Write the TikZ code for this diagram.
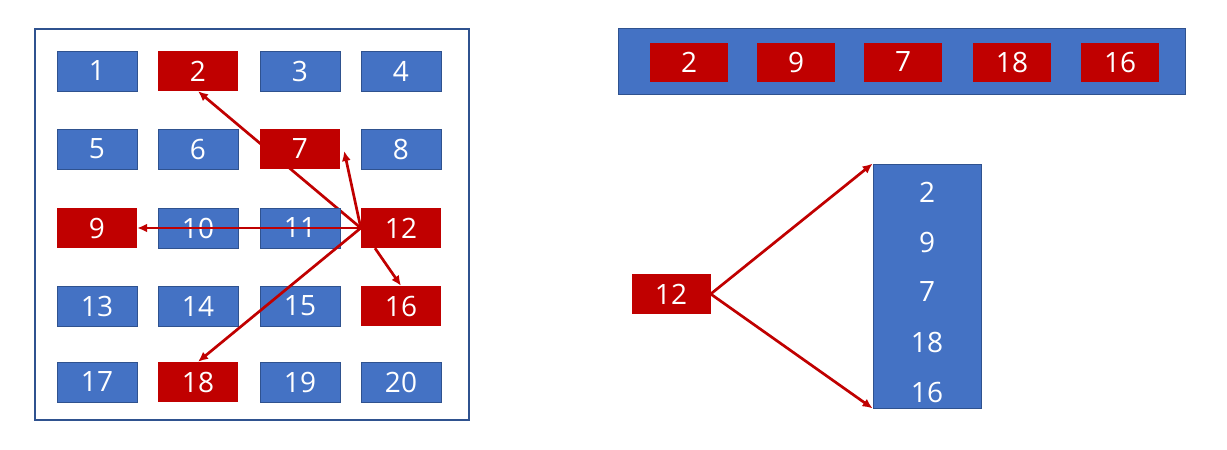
\documentclass[tikz,border=0pt]{standalone}
\usepackage{fontspec}
\setmainfont{Open Sans}
\usetikzlibrary{arrows.meta,backgrounds,calc}
\definecolor{cblue}{HTML}{4472C4}
\definecolor{cblueb}{HTML}{2F528F}
\definecolor{cred}{HTML}{C00000}
\begin{document}
\begin{tikzpicture}[x=1pt,y=-1pt,
  cell/.style={minimum width=80pt,minimum height=40pt,inner sep=0pt,font=\fontsize{28}{28}\selectfont,text=white},
  bcell/.style={cell,fill=cblue,draw=cblueb,line width=0.8pt},
  rcell/.style={cell,fill=cred},
  txt/.style={inner sep=0pt,font=\fontsize{28}{28}\selectfont,text=white},
  arr/.style={draw=cred,line width=2.7pt,-{Latex[length=10pt,width=9pt]}}]
\useasboundingbox (0,0) rectangle (1227,450);
% left frame
\draw[cblueb,line width=1.4pt] (35,29) rectangle (469,420);
% grid
\node[bcell] (n1) at (97,71) {1};
\node[rcell] (n2) at (198,71) {2};
\node[bcell] (n3) at (300,71) {3};
\node[bcell] (n4) at (401,71) {4};
\node[bcell] (n5) at (97,149) {5};
\node[bcell] (n6) at (198,149) {6};
\node[rcell] (n7) at (300,149) {7};
\node[bcell] (n8) at (401,149) {8};
\node[rcell] (n9) at (97,228) {9};
\node[bcell] (n10) at (198,228) {10};
\node[bcell] (n11) at (300,228) {11};
\node[rcell] (n12) at (401,228) {12};
\node[bcell] (n13) at (97,306) {13};
\node[bcell] (n14) at (198,306) {14};
\node[bcell] (n15) at (300,306) {15};
\node[rcell] (n16) at (401,306) {16};
\node[bcell] (n17) at (97,382) {17};
\node[rcell] (n18) at (198,382) {18};
\node[bcell] (n19) at (300,382) {19};
\node[bcell] (n20) at (401,382) {20};
% arrows
\begin{scope}[on background layer]
\draw[arr] (n12.west) -- (n2.south);
\end{scope}
\draw[arr] (n12.west) -- (n9.east);
\draw[arr] (n12.west) -- ($(n7.east)+(4,2)$);
\draw[arr] (n12.west) -- (n18.north);
\draw[arr] ($(n12.south)+(-26,0)$) -- (n16.north);
% top bar
\node[fill=cblue,draw=cblueb,line width=0.8pt,minimum width=567pt,minimum height=66pt,inner sep=0pt] (bar) at (901.5,61) {};
\node[rcell,minimum width=78pt,minimum height=39pt] (b2) at (689,62) {2};
\node[rcell,minimum width=78pt,minimum height=39pt] (b9) at (796,62) {9};
\node[rcell,minimum width=78pt,minimum height=39pt] (b7) at (903,62) {7};
\node[rcell,minimum width=78pt,minimum height=39pt] (b18) at (1012,62) {18};
\node[rcell,minimum width=78pt,minimum height=39pt] (b16) at (1120,62) {16};
% column
\node[fill=cblue,draw=cblueb,line width=0.8pt,minimum width=108pt,minimum height=244pt,inner sep=0pt] (col) at (927,286) {};
\node[txt] (c2) at (927,192) {2};
\node[txt] (c9) at (927,242) {9};
\node[txt] (c7) at (927,292) {7};
\node[txt] (c18) at (927,342) {18};
\node[txt] (c16) at (927,392) {16};
\node[rcell,minimum width=79pt] (r12) at (671,294) {12};
\draw[arr] (r12.east) -- (col.north west);
\draw[arr] (r12.east) -- (col.south west);
\end{tikzpicture}
\end{document}
